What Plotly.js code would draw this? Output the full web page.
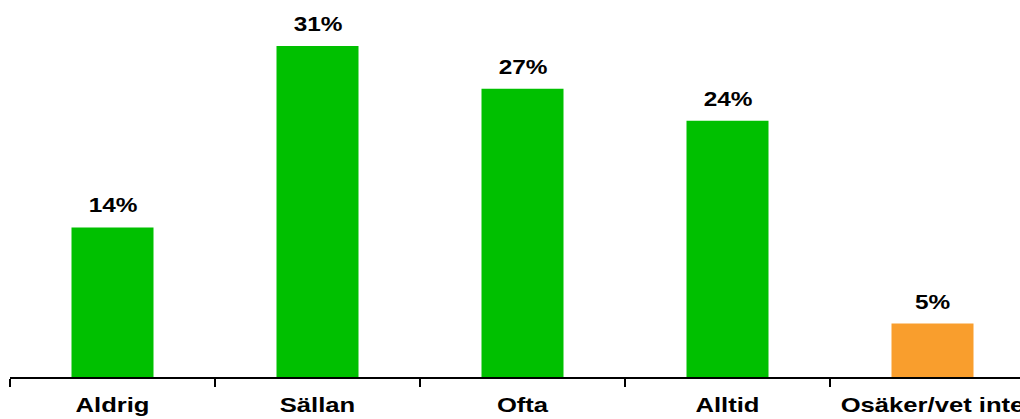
<!DOCTYPE html>
<html><head><meta charset="utf-8">
<script src="https://cdn.plot.ly/plotly-3.0.1.min.js"></script>
<style>html,body{margin:0;padding:0;overflow:hidden;background:#fff;width:1020px;height:419px}
#chart{width:828px;height:419px;transform:scaleX(1.25);transform-origin:0 0}</style>
</head><body><div id="chart"></div>
<script>
const categories = ["Aldrig", "Sällan", "Ofta", "Alltid", "Osäker/vet inte"];
const values = [14, 31, 27, 24, 5];
const barColors = ["#00C000", "#00C000", "#00C000", "#00C000", "#F99E2D"];
const valueLabels = values.map(v => v + "%");

const FONT = "Liberation Sans, Arial, sans-serif";

const trace = {
  type: "bar",
  x: categories,
  y: values,
  width: 0.4,
  marker: {color: barColors, line: {width: 0}},
  hoverinfo: "none"
};

const annotations = categories.map((c, i) => ({
  x: c, y: values[i], xref: "x", yref: "y",
  text: valueLabels[i], showarrow: false,
  yanchor: "bottom", xanchor: "center", yshift: 9,
  font: {family: FONT, size: 19.5, color: "#000", weight: "bold"}
}));

const layout = {
  width: 828, height: 419,
  margin: {l: 8, r: 0, t: 0, b: 42, pad: 0},
  paper_bgcolor: "#fff", plot_bgcolor: "#fff",
  showlegend: false,
  annotations: annotations,
  xaxis: {
    type: "category",
    range: [-0.5, 4.5],
    showline: true, linecolor: "#000", linewidth: 2,
    ticks: "outside", tickson: "boundaries", ticklen: 8, tickwidth: 1.6, tickcolor: "#000",
    ticklabelstandoff: 8,
    showgrid: false, zeroline: false,
    tickfont: {family: FONT, size: 20.5, color: "#000", weight: "bold"}
  },
  yaxis: {
    range: [0, 35.3], visible: false, showgrid: false, zeroline: false, fixedrange: true
  }
};

Plotly.newPlot("chart", [trace], layout, {displayModeBar: false, staticPlot: true});
</script></body></html>
